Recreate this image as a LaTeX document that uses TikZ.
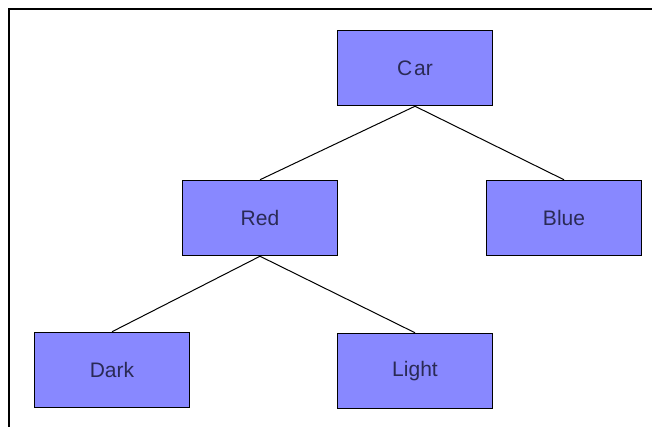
\documentclass[tikz,border=0pt]{standalone}
\usepackage{fontspec}
\setmainfont{Liberation Sans}
\definecolor{boxfill}{HTML}{8888FF}
\definecolor{labeltext}{HTML}{2A2A55}
\begin{document}
\begin{tikzpicture}[x=1pt,y=-1pt,
  treebox/.style={draw=black,line width=1.5pt,fill=boxfill,minimum width=155pt,minimum height=75pt,inner sep=0pt,font=\fontsize{21}{24}\selectfont,text=labeltext},
  edge/.style={draw=black,line width=1pt}]
\useasboundingbox (0,0) rectangle (652,427);
\draw[line width=1.5pt] (9,427) -- (9,9) -- (652,9);
\node[treebox] (car) at (415,68) {C\kern2pt ar};
\node[treebox] (red) at (260,218) {Red};
\node[treebox] (blue) at (564,218) {Blue};
\node[treebox] (dark) at (112,370) {Dark};
\node[treebox] (light) at (415,371) {Light};
\draw[edge] (car.south) -- (red.north);
\draw[edge] (car.south) -- (blue.north);
\draw[edge] (red.south) -- (dark.north);
\draw[edge] (red.south) -- (light.north);
\end{tikzpicture}
\end{document}
